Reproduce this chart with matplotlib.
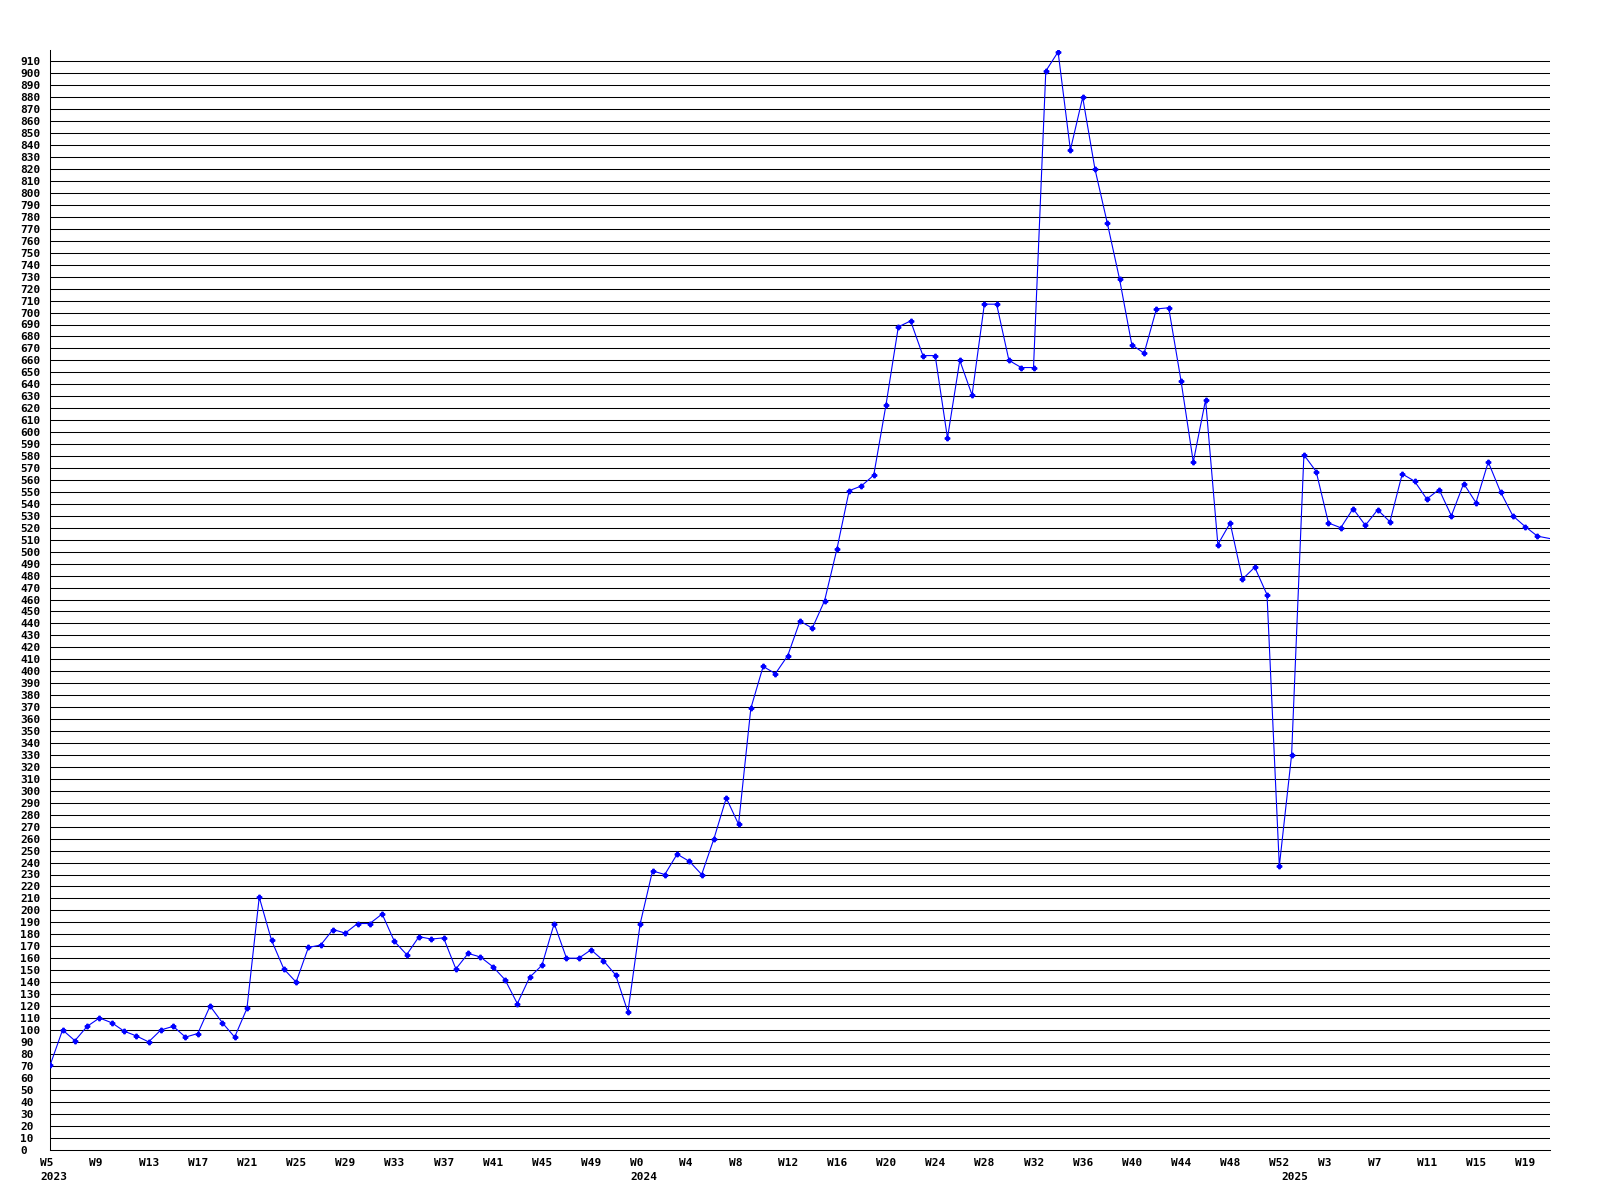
import matplotlib.pyplot as plt
import numpy as np

# Weekly values
weeks_2023 = list(range(5, 53))
vals_2023 = [71, 100, 91, 103, 110, 106, 99, 95, 90, 100, 103, 94, 97, 120, 106, 94,
             118, 211, 175, 151, 140, 169, 171,
             184, 181, 189, 189, 197, 174, 163, 178, 176, 177, 151, 164, 161, 153, 142,
             122, 144, 154, 189, 160, 160, 167, 158, 146, 115]

weeks_2024 = list(range(0, 53))
vals_2024 = [189,
             233, 230, 247, 241, 230, 260, 294, 272, 369, 404, 398, 413, 442, 436, 459, 502,
             551, 555, 564, 623, 688, 693, 664, 664, 595, 660, 631, 707, 707, 660, 654, 654,
             902, 918, 836, 880, 820, 775, 728, 673, 666, 703, 704,
             643, 575, 627, 506, 524, 477, 487, 464, 237]

weeks_2025 = list(range(0, 22))
vals_2025 = [330, 581, 567, 524, 520, 536, 522, 535, 525, 565, 559, 544, 552, 530, 557,
             541, 575, 550, 530, 521, 513, 511]

years = ['2023', '2024', '2025']

weeks = weeks_2023 + weeks_2024 + weeks_2025
values = vals_2023 + vals_2024 + vals_2025
x = np.arange(len(values))
year_start = [0, len(weeks_2023), len(weeks_2023) + len(weeks_2024)]

fig = plt.figure(figsize=(16, 12), dpi=100)
ax = fig.add_axes([50.3 / 1600, 50.5 / 1200, 1499.4 / 1600, 1100.0 / 1200])

font = dict(family='DejaVu Sans Mono', weight='bold', size=8)

# horizontal grid lines every 10
for v in range(10, 911, 10):
    ax.axhline(v, color='black', lw=0.75, zorder=1)

ax.plot(x, values, color='#0000ff', lw=0.8, marker='P', markersize=3.2,
        markevery=list(range(len(values) - 1)), zorder=3)

ax.set_xlim(0, len(values) - 1)
ax.set_ylim(0, 920)

for s in ['top', 'right']:
    ax.spines[s].set_visible(False)
ax.spines['left'].set_linewidth(0.75)
ax.spines['bottom'].set_linewidth(0.75)

# y labels, left aligned at the figure edge
ax.set_yticks(range(0, 911, 10))
ax.set_yticklabels([str(v) for v in range(0, 911, 10)], fontdict=font)
ax.tick_params(axis='y', length=0, pad=21.8)
for lab in ax.get_yticklabels():
    lab.set_ha('left')

# x labels every 4 weeks, plus year under the first week of each year
ax.set_xticks([])
for i in range(0, len(weeks), 4):
    ax.annotate('W%d' % weeks[i], xy=(i, 0), xycoords=('data', 'axes fraction'),
                xytext=(-10, -8), textcoords='offset pixels', ha='left', va='top', **font)
for i, yr in zip(year_start, years):
    ax.annotate(yr, xy=(i, 0), xycoords=('data', 'axes fraction'),
                xytext=(-10, -23), textcoords='offset pixels', ha='left', va='top', **font)

fig.savefig('out.png', dpi=100)
